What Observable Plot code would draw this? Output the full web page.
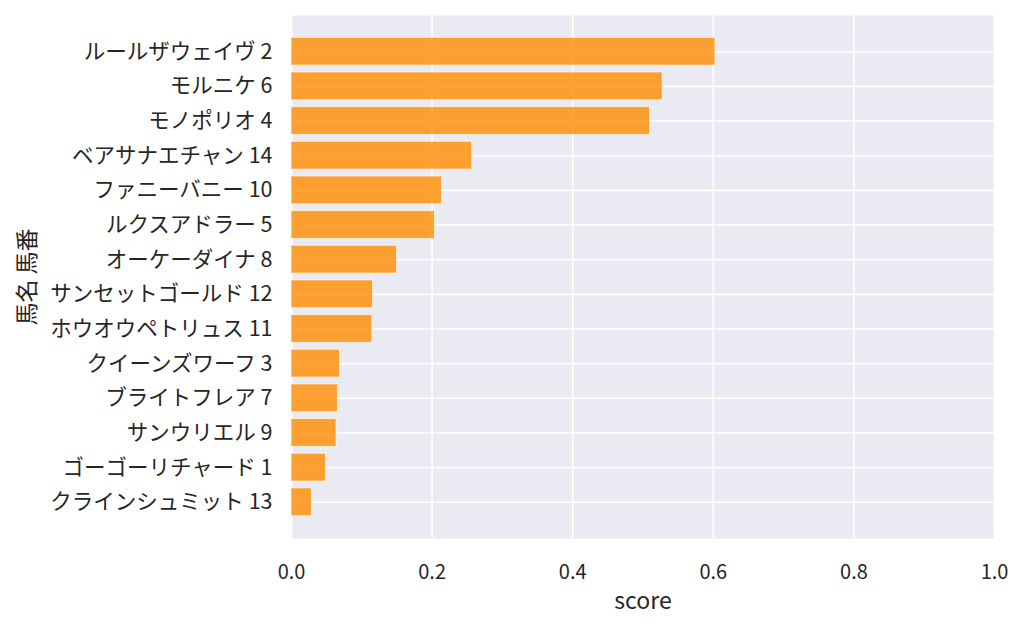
<!DOCTYPE html>
<html>
<head>
<meta charset="utf-8">
<script src="https://cdn.jsdelivr.net/npm/d3@7"></script>
<script src="https://cdn.jsdelivr.net/npm/@observablehq/plot@0.6"></script>
<style>
  html, body { margin: 0; padding: 0; background: #ffffff; }
  #chart { width: 1024px; height: 627px; }
  svg { font-family: "Noto Sans CJK JP", "Noto Sans", sans-serif; }
</style>
</head>
<body>
<div id="chart"></div>
<script>
const names = [
  "ルールザウェイヴ 2",
  "モルニケ 6",
  "モノポリオ 4",
  "ベアサナエチャン 14",
  "ファニーバニー 10",
  "ルクスアドラー 5",
  "オーケーダイナ 8",
  "サンセットゴールド 12",
  "ホウオウペトリュス 11",
  "クイーンズワーフ 3",
  "ブライトフレア 7",
  "サンウリエル 9",
  "ゴーゴーリチャード 1",
  "クラインシュミット 13"
];
const scores = [0.603, 0.528, 0.510, 0.257, 0.214, 0.204, 0.150, 0.116, 0.115, 0.069, 0.066, 0.064, 0.049, 0.029];
const xTicks = [0, 0.2, 0.4, 0.6, 0.8, 1.0];

const data = names.map((name, i) => ({name, score: scores[i]}));

const chart = Plot.plot({
  width: 1024,
  height: 627,
  marginLeft: 291,
  marginRight: 30,
  marginTop: 15,
  marginBottom: 89,
  style: {fontFamily: '"Noto Sans CJK JP", "Noto Sans", sans-serif', fontSize: "20px", color: "#262626", background: "#ffffff"},
  x: {domain: [0, 1]},
  y: {domain: names, padding: 0.2, paddingOuter: 0.645, align: 0.5, round: false},
  marks: [
    Plot.frame({fill: "#EAEAF2", stroke: null}),
    Plot.gridX({ticks: xTicks, stroke: "#ffffff", strokeOpacity: 1, strokeWidth: 1.6}),
    Plot.ruleY(names, {y: d => d, stroke: "#ffffff", strokeOpacity: 1, strokeWidth: 1.6}),
    Plot.barX(data, {x: "score", y: "name", fill: "#FF8C00", fillOpacity: 0.8, stroke: "#ffffff", strokeOpacity: 0.6, strokeWidth: 1}),
    Plot.axisX({ticks: xTicks, tickFormat: d3.format(".1f"), tickSize: 0, tickPadding: 26, fontSize: 20, label: null, color: "#262626"}),
    Plot.axisX({ticks: [], tickSize: 0, fontSize: 23, label: "score", labelAnchor: "center", labelArrow: "none", labelOffset: 70, color: "#262626"}),
    Plot.axisY({tickSize: 0, tickPadding: 19, fontSize: 21.5, label: null, color: "#262626"}),
    Plot.axisY({ticks: [], tickSize: 0, fontSize: 23, label: "馬名 馬番", labelAnchor: "center", labelArrow: "none", labelOffset: 273, color: "#262626"})
  ]
});
document.getElementById("chart").appendChild(chart);
</script>
</body>
</html>
